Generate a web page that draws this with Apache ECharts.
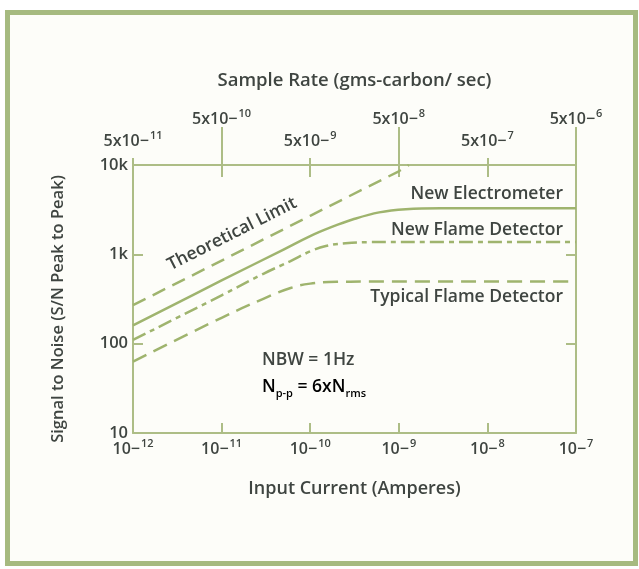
<!DOCTYPE html>
<html>
<head>
<meta charset="utf-8">
<script src="https://cdn.jsdelivr.net/npm/echarts@6/dist/echarts.min.js"></script>
<style>
  html, body { margin: 0; padding: 0; background: #fff; }
  #chart { width: 639px; height: 569px; }
</style>
</head>
<body>
<div id="chart"></div>
<script>
// tick labels
const currentExponents = [12, 11, 10, 9, 8, 7];        // 10^-n amperes (bottom)
const sampleRateExponents = [11, 10, 9, 8, 7, 6];      // 5x10^-n gms-carbon/sec (top)
const snTickLabels = ["10", "100", "1k", "10k"];

// curves (input current in A, S/N)
const theoreticalX = [1e-12, 1e-11, 1e-10, 1e-9, 1.3e-9];
const theoreticalY = [270, 850, 2700, 8500, 10000];

const electrometerX = [1e-12, 1e-11, 5e-11, 1e-10, 1.7e-10, 3e-10, 6e-10, 1.2e-9, 3e-9, 1e-7];
const electrometerY = [160, 510, 1130, 1600, 2000, 2450, 2950, 3200, 3280, 3280];

const newFlameX = [1e-12, 1e-11, 3e-11, 6e-11, 1e-10, 1.5e-10, 2.5e-10, 5e-10, 1e-7];
const newFlameY = [110, 348, 610, 840, 1080, 1240, 1330, 1370, 1370];

const typicalX = [1e-12, 1e-11, 3e-11, 6e-11, 1e-10, 2e-10, 4e-10, 1e-7];
const typicalY = [63, 195, 320, 420, 470, 492, 495, 495];

const zip = (xs, ys) => xs.map((x, i) => [x, ys[i]]);

const chart = echarts.init(document.getElementById("chart"));

const FONT = "Open Sans";
const TEXT = "#3f4541";
const AXIS = "#adbd86";
const LINE = "#9fb46e";
const W = 600;

const supRich = {
  b: { fontSize: 16, fontFamily: FONT, fontWeight: W, color: TEXT, lineHeight: 19, verticalAlign: "bottom" },
  s: { fontSize: 11, fontFamily: FONT, fontWeight: W, color: TEXT, lineHeight: 14, verticalAlign: "top", padding: [0, 0, 0, 1] },
  gap: { height: 22, lineHeight: 22 }
};

const axisLine = { show: true, lineStyle: { color: AXIS, width: 2 } };
const annot = "600 17.5px " + FONT;

const option = {
  backgroundColor: "#ffffff",
  animation: false,
  grid: { left: 133, right: 63, top: 165, bottom: 136, outerBoundsMode: "none" },
  graphic: [
    {
      type: "rect",
      z: -10,
      shape: { x: 7.5, y: 12.5, width: 628, height: 551 },
      style: { fill: "#fdfdf9", stroke: "#a6ba80", lineWidth: 5 }
    },
    {
      type: "text", x: 232, y: 234, rotation: 26.7 * Math.PI / 180,
      style: { text: "Theoretical Limit", fill: TEXT, font: annot, textAlign: "center", textVerticalAlign: "middle" }
    },
    {
      type: "text", x: 563, y: 194,
      style: { text: "New Electrometer", fill: TEXT, font: annot, textAlign: "right", textVerticalAlign: "middle" }
    },
    {
      type: "text", x: 563, y: 230,
      style: { text: "New Flame Detector", fill: TEXT, font: annot, textAlign: "right", textVerticalAlign: "middle" }
    },
    {
      type: "text", x: 563, y: 297,
      style: { text: "Typical Flame Detector", fill: TEXT, font: annot, textAlign: "right", textVerticalAlign: "middle" }
    },
    {
      type: "text", x: 262, y: 360,
      style: { text: "NBW = 1Hz", fill: TEXT, font: annot, textAlign: "left", textVerticalAlign: "middle" }
    },
    {
      type: "text", x: 262, y: 389,
      style: {
        text: "{n|N}{sub|p-p}{n| = 6xN}{sub|rms}",
        textAlign: "left", textVerticalAlign: "middle",
        rich: {
          n: { fontSize: 17.5, fontFamily: FONT, fontWeight: W, color: TEXT, lineHeight: 21, verticalAlign: "top" },
          sub: { fontSize: 11, fontFamily: FONT, fontWeight: W, color: TEXT, lineHeight: 12, verticalAlign: "bottom" }
        }
      }
    }
  ],
  xAxis: [
    {
      type: "log", logBase: 10, position: "bottom", min: 1e-12, max: 1e-7,
      axisLine,
      splitLine: { show: false },
      minorTick: { show: false },
      axisTick: { show: true, inside: true, length: 10, lineStyle: { color: AXIS, width: 2 } },
      axisLabel: {
        margin: 5,
        formatter: (v, i) => "{b|10\u2212}{s|" + currentExponents[i] + "}",
        rich: supRich
      },
      name: "Input Current (Amperes)",
      nameLocation: "middle",
      nameGap: 47,
      nameTextStyle: { fontSize: 18, fontFamily: FONT, fontWeight: W, color: TEXT }
    },
    {
      type: "log", logBase: 10, position: "top", min: 1e-12, max: 1e-7,
      axisLine,
      splitLine: { show: false },
      axisTick: { show: true, inside: true, length: 12, lineStyle: { color: AXIS, width: 2 } },
      axisLabel: {
        margin: 16,
        formatter: (v, i) => {
          const t = "{b|5x10\u2212}{s|" + sampleRateExponents[i] + "}";
          return i % 2 === 1 ? t + "\n{gap|}" : t;
        },
        rich: supRich
      },
      name: "Sample Rate (gms-carbon/ sec)",
      nameLocation: "middle",
      nameGap: 75,
      nameTextStyle: { fontSize: 18.5, fontFamily: FONT, fontWeight: W, color: TEXT }
    },
    {
      type: "log", logBase: 10, position: "top", min: 1e-12, max: 1e-7,
      axisLine: { show: false },
      splitLine: { show: false },
      axisLabel: { show: false },
      axisTick: { show: true, inside: false, length: 7, customValues: [1e-12, 1e-10, 1e-8], lineStyle: { color: AXIS, width: 2 } }
    },
    {
      type: "log", logBase: 10, position: "top", min: 1e-12, max: 1e-7,
      axisLine: { show: false },
      splitLine: { show: false },
      axisLabel: { show: false },
      axisTick: { show: true, inside: false, length: 38, customValues: [1e-11, 1e-9, 1e-7], lineStyle: { color: AXIS, width: 2 } }
    }
  ],
  yAxis: [
    {
      type: "log", logBase: 10, position: "left", min: 10, max: 10000,
      axisLine,
      splitLine: { show: false },
      axisTick: { show: true, inside: true, length: 10, lineStyle: { color: AXIS, width: 2 } },
      axisLabel: {
        margin: 5,
        fontSize: 16.5, fontFamily: FONT, fontWeight: W, color: TEXT,
        formatter: (v, i) => snTickLabels[i]
      },
      name: "Signal to Noise (S/N Peak to Peak)",
      nameLocation: "middle",
      nameGap: 66,
      nameTextStyle: { fontSize: 16.5, fontFamily: FONT, fontWeight: W, color: TEXT, padding: [0, 20, 0, 0] }
    },
    {
      type: "log", logBase: 10, position: "right", min: 10, max: 10000,
      axisLine,
      splitLine: { show: false },
      axisLabel: { show: false },
      axisTick: { show: true, inside: true, length: 10, lineStyle: { color: AXIS, width: 2 } }
    }
  ],
  series: [
    {
      name: "Theoretical Limit", type: "line", data: zip(theoreticalX, theoreticalY),
      showSymbol: false, smooth: false,
      lineStyle: { color: LINE, width: 2.5, type: [14, 8] }
    },
    {
      name: "New Electrometer", type: "line", data: zip(electrometerX, electrometerY),
      showSymbol: false, smooth: 0.4,
      lineStyle: { color: LINE, width: 2.5, type: "solid" }
    },
    {
      name: "New Flame Detector", type: "line", data: zip(newFlameX, newFlameY),
      showSymbol: false, smooth: 0.4,
      lineStyle: { color: LINE, width: 2.5, type: [14, 5, 5, 5] }
    },
    {
      name: "Typical Flame Detector", type: "line", data: zip(typicalX, typicalY),
      showSymbol: false, smooth: 0.4,
      lineStyle: { color: LINE, width: 2.5, type: [15, 8] }
    }
  ]
};

chart.setOption(option);
</script>
</body>
</html>
